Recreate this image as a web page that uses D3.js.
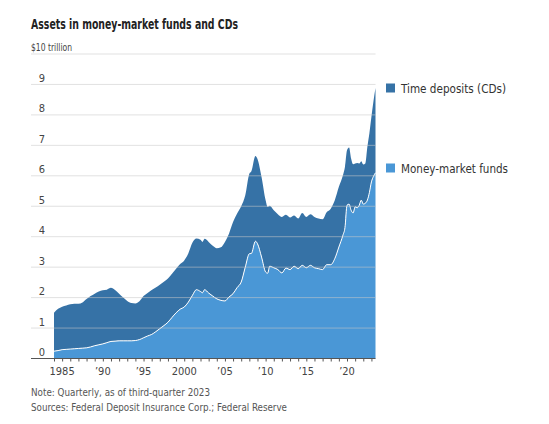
<!DOCTYPE html>
<html>
<head>
<meta charset="utf-8">
<script src="https://cdn.jsdelivr.net/npm/d3@7"></script>
<style>
  body { margin: 0; background: #fff; }
  svg text { font-family: "Liberation Sans Narrow", "DejaVu Sans Condensed", "Roboto", sans-serif; }
</style>
</head>
<body>
<svg id="chart" width="549" height="424"></svg>
<script>
// quarterly readings (year fraction), $ trillion
var dates = [1984.0, 1984.5, 1985.0, 1985.5, 1986.0, 1986.5, 1987.0, 1987.5, 1988.0, 1988.5,
             1989.0, 1989.5, 1990.0, 1990.5, 1991.0, 1991.5, 1992.0, 1992.5, 1993.0, 1993.5,
             1994.0, 1994.5, 1995.0, 1995.5, 1996.0, 1996.5, 1997.0, 1997.5, 1998.0, 1998.5,
             1999.0, 1999.5, 2000.0, 2000.5, 2001.0, 2001.5, 2002.0, 2002.25, 2002.5, 2003.0,
             2003.5, 2004.0, 2004.5, 2005.0, 2005.5, 2006.0, 2006.5, 2007.0, 2007.5, 2008.0,
             2008.25, 2008.75, 2009.0, 2009.5, 2010.0, 2010.25, 2010.5, 2011.0, 2011.5, 2012.0,
             2012.5, 2013.0, 2013.5, 2014.0, 2014.5, 2015.0, 2015.5, 2016.0, 2016.5, 2017.0,
             2017.5, 2018.0, 2018.5, 2019.0, 2019.5, 2019.75, 2020.0, 2020.25, 2020.5, 2020.75,
             2021.0, 2021.25, 2021.5, 2021.75, 2022.0, 2022.25, 2022.5, 2022.75, 2023.0, 2023.25,
             2023.5];

var moneyMarket = [0.24, 0.26, 0.29, 0.30, 0.31, 0.32, 0.33, 0.34, 0.35, 0.38,
                   0.42, 0.45, 0.48, 0.52, 0.56, 0.57, 0.58, 0.58, 0.58, 0.58,
                   0.59, 0.62, 0.68, 0.74, 0.79, 0.88, 0.98, 1.08, 1.19, 1.35,
                   1.50, 1.62, 1.69, 1.85, 2.07, 2.26, 2.20, 2.16, 2.26, 2.15,
                   2.05, 1.96, 1.91, 1.89, 2.02, 2.13, 2.33, 2.51, 3.00, 3.44,
                   3.45, 3.85, 3.77, 3.33, 2.84, 2.80, 3.03, 2.98, 2.92, 2.81,
                   2.97, 2.92, 3.03, 2.95, 3.06, 2.98, 3.06, 2.98, 2.95, 2.92,
                   3.08, 3.08, 3.28, 3.66, 4.05, 4.30, 5.03, 5.07, 4.87, 4.78,
                   4.98, 4.95, 5.03, 5.20, 5.07, 5.10, 5.20, 5.45, 5.80, 5.98,
                   6.10];

var timeDeposits = [1.26, 1.37, 1.41, 1.44, 1.47, 1.48, 1.47, 1.50, 1.60, 1.67,
                    1.71, 1.75, 1.76, 1.74, 1.76, 1.68, 1.55, 1.42, 1.31, 1.24,
                    1.22, 1.26, 1.37, 1.41, 1.46, 1.45, 1.44, 1.44, 1.44, 1.43,
                    1.45, 1.48, 1.53, 1.60, 1.73, 1.68, 1.70, 1.67, 1.67, 1.68,
                    1.65, 1.66, 1.74, 1.94, 2.08, 2.35, 2.43, 2.49, 2.36, 2.63,
                    2.70, 2.80, 2.78, 2.63, 2.36, 2.18, 1.99, 1.89, 1.82, 1.84,
                    1.75, 1.71, 1.67, 1.65, 1.72, 1.67, 1.68, 1.67, 1.65, 1.65,
                    1.72, 1.84, 1.92, 1.98, 1.97, 2.00, 1.81, 1.86, 1.70, 1.60,
                    1.42, 1.47, 1.37, 1.28, 1.30, 1.30, 1.75, 1.95, 2.14, 2.47,
                    2.78];

var yTicks = [0, 1, 2, 3, 4, 5, 6, 7, 8, 9, 10];
var xLabelYears = [1985, 1990, 1995, 2000, 2005, 2010, 2015, 2020];
var xLabels = ["1985", "\u201990", "\u201995", "2000", "\u201905", "\u201910", "\u201915", "\u201920"];
var seriesNames = ["Time deposits (CDs)", "Money-market funds"];

var darkBlue = "#3672a6", lightBlue = "#4a97d6";

var rows = dates.map(function(d, i) {
  return { date: d, mmf: moneyMarket[i], cds: timeDeposits[i] };
});

var svg = d3.select("#chart");

var x = d3.scaleLinear().domain([1984, 2023.5]).range([54, 375.5]);
var y = d3.scaleLinear().domain([0, 10]).range([358.5, 54]);

var stack = d3.stack().keys(["mmf", "cds"]);
var layers = stack(rows);

var area = d3.area()
  .x(function(d) { return x(d.data.date); })
  .y0(function(d) { return y(d[0]); })
  .y1(function(d) { return y(d[1]); })
  .curve(d3.curveMonotoneX);

svg.selectAll("path.layer")
  .data(layers)
  .enter().append("path")
  .attr("class", "layer")
  .attr("d", area)
  .attr("fill", function(d) { return d.key == "mmf" ? lightBlue : darkBlue; });

// white edge on top of money-market funds
svg.append("path")
  .datum(layers[0])
  .attr("d", d3.line()
    .x(function(d) { return x(d.data.date); })
    .y(function(d) { return y(d[1]); })
    .curve(d3.curveMonotoneX))
  .attr("fill", "none")
  .attr("stroke", "#fff")
  .attr("stroke-width", 1);

// gridlines over the areas
svg.selectAll("line.grid")
  .data(yTicks.slice(1))
  .enter().append("line")
  .attr("class", "grid")
  .attr("x1", 31).attr("x2", 375.5)
  .attr("y1", function(d) { return y(d); })
  .attr("y2", function(d) { return y(d); })
  .attr("stroke", "#c8c8c8")
  .attr("stroke-opacity", 0.55)
  .attr("stroke-width", 1);

svg.selectAll("text.ylab")
  .data(yTicks.slice(0, 10))
  .enter().append("text")
  .attr("class", "ylab")
  .attr("x", 45)
  .attr("y", function(d) { return y(d) - 2.5; })
  .attr("text-anchor", "end")
  .attr("font-size", 11)
  .attr("fill", "#444")
  .text(function(d) { return d; });

svg.append("text")
  .attr("x", 31).attr("y", y(10) - 3)
  .attr("font-size", 10.5)
  .attr("fill", "#444")
  .attr("textLength", 41).attr("lengthAdjust", "spacingAndGlyphs")
  .text("$10 trillion");

// x axis with yearly ticks
var xAxis = d3.axisBottom(x)
  .tickValues(d3.range(1984, 2024))
  .tickSize(3)
  .tickFormat("");
var gx = svg.append("g")
  .attr("transform", "translate(0," + y(0) + ")")
  .call(xAxis);
gx.select(".domain").remove();
gx.selectAll(".tick line").attr("stroke", "#555");
gx.append("line")
  .attr("x1", 31).attr("x2", 375.5)
  .attr("stroke", "#555").attr("stroke-width", 1.2);

svg.selectAll("text.xlab")
  .data(xLabelYears)
  .enter().append("text")
  .attr("class", "xlab")
  .attr("x", function(d) { return x(d); })
  .attr("y", 375)
  .attr("text-anchor", "middle")
  .attr("font-size", 11)
  .attr("fill", "#444")
  .text(function(d, i) { return xLabels[i]; });

// legend
var legendY = [88, 168];
var legendW = [105, 107];
var leg = svg.selectAll("g.leg")
  .data(seriesNames)
  .enter().append("g")
  .attr("class", "leg")
  .attr("transform", function(d, i) { return "translate(386," + legendY[i] + ")"; });
leg.append("rect")
  .attr("x", 0).attr("y", -4.5)
  .attr("width", 9).attr("height", 9)
  .attr("fill", function(d, i) { return i == 0 ? darkBlue : lightBlue; });
leg.append("text")
  .attr("x", 15).attr("y", 4.5)
  .attr("font-size", 13)
  .attr("fill", "#333")
  .attr("textLength", function(d, i) { return legendW[i]; })
  .attr("lengthAdjust", "spacingAndGlyphs")
  .text(function(d) { return d; });

// title and notes
svg.append("text")
  .attr("x", 31).attr("y", 29)
  .attr("font-size", 13.5)
  .attr("font-weight", "bold")
  .attr("fill", "#222")
  .attr("textLength", 207).attr("lengthAdjust", "spacingAndGlyphs")
  .text("Assets in money-market funds and CDs");

svg.append("text")
  .attr("x", 31).attr("y", 396)
  .attr("font-size", 11)
  .attr("fill", "#555")
  .attr("textLength", 179).attr("lengthAdjust", "spacingAndGlyphs")
  .text("Note: Quarterly, as of third-quarter 2023");
svg.append("text")
  .attr("x", 31).attr("y", 411)
  .attr("font-size", 11)
  .attr("fill", "#555")
  .attr("textLength", 256).attr("lengthAdjust", "spacingAndGlyphs")
  .text("Sources: Federal Deposit Insurance Corp.; Federal Reserve");
</script>
</body>
</html>
